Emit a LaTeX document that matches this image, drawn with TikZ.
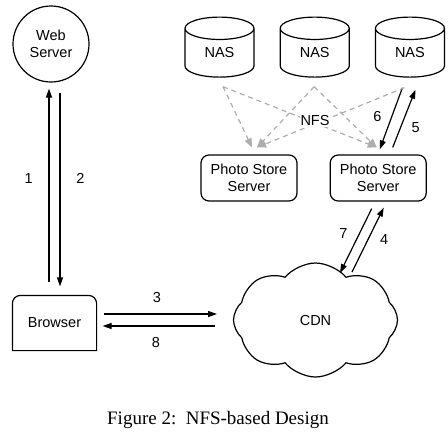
\documentclass[tikz,border=0pt]{standalone}
\usepackage{fontspec}
\setmainfont{Liberation Serif}
\newfontfamily\diagfont{Liberation Sans}
\usepackage{tikz}
\usetikzlibrary{arrows.meta, positioning, shapes.geometric, shapes.symbols}

\begin{document}
\begin{tikzpicture}[
    x=0.5pt, y=0.5pt,
    font=\diagfont\fontsize{7.25}{8.4}\selectfont,
    line width=0.6pt,
    nas/.style={cylinder, draw, shape border rotate=90, aspect=0.75, minimum width=34.5pt, minimum height=30pt, inner sep=0pt},
    box/.style={rectangle, draw, rounded corners=4pt, align=center, minimum width=48pt, minimum height=23pt, inner sep=0pt},
    arrow/.style={-{Triangle[length=4.5pt, width=3pt]}},
    nfs/.style={-{Triangle[length=4.5pt, width=3.6pt]}, draw=black!32, dash pattern=on 2.5pt off 2pt}
  ]
    \useasboundingbox (0,0) rectangle (448,441);

    % nodes
    \node[circle, draw, minimum size=38pt, align=center, inner sep=0pt] (web) at (51,397) {Web\\Server};
    \node[minimum width=41.5pt, minimum height=27pt, inner sep=0pt] (browser) at (54.5,118) {Browser};
    \draw (browser.south west) -- ([yshift=-4pt]browser.north west)
      arc[start angle=180, end angle=90, radius=4pt] -- ([xshift=-4pt]browser.north east)
      arc[start angle=90, end angle=0, radius=4pt] -- (browser.south east) -- cycle;

    \node[nas] (nas1) at (219.5,388) {NAS};
    \node[nas, right=12.5pt of nas1] (nas2) {NAS};
    \node[nas, right=12.5pt of nas2] (nas3) {NAS};

    \node[box] (ps1) at (249,263) {Photo Store\\Server};
    \node[box, right=16pt of ps1] (ps2) {Photo Store\\Server};

    \node[cloud, draw, cloud puffs=8, cloud puff arc=100, aspect=1.6, minimum width=82pt, minimum height=57pt] (cdn) at (315.5,121) {CDN};

    % web server <-> browser
    \draw[arrow, shorten <=6.5pt, shorten >=3pt] ([xshift=-2.75pt]browser.north) -- ([xshift=-2.75pt]browser.north |- web.south) node[pos=0.55, left=4.5pt] {1};
    \draw[arrow, shorten <=5pt, shorten >=4.5pt] ([xshift=2.75pt]browser.north |- web.south) -- ([xshift=2.75pt]browser.north) node[pos=0.45, right=4.5pt] {2};

    % browser <-> cdn
    \draw[arrow, shorten <=3.5pt] ([yshift=4.5pt]browser.east) -- ([xshift=-49.25pt, yshift=3pt]cdn.center) node[midway, above=2pt] {3};
    \draw[arrow, shorten >=3pt] ([xshift=-50.25pt, yshift=-3pt]cdn.center) -- ([yshift=-1.5pt]browser.east) node[midway, below=2pt] {8};

    % cdn <-> photo store
    \draw[arrow] ([xshift=-3.25pt, yshift=-3.5pt]ps2.south) -- ([xshift=12.25pt, yshift=23.5pt]cdn.center) node[pos=0.38, left=2.5pt] {7};
    \draw[arrow] ([xshift=18.25pt, yshift=24pt]cdn.center) -- ([xshift=2.75pt, yshift=-3pt]ps2.south) node[pos=0.5, right=2.5pt] {4};

    % photo store <-> nas
    \draw[arrow] ([xshift=-3.75pt, yshift=-5pt]nas3.bottom) -- ([xshift=0.75pt, yshift=2.5pt]ps2.north) node[pos=0.47, left=1.5pt] {6};
    \draw[arrow] ([xshift=7.25pt, yshift=3.5pt]ps2.north) -- ([xshift=2.75pt, yshift=-6pt]nas3.bottom) node[pos=0.34, right=2pt] {5};

    % nfs mounts
    \draw[nfs] ([xshift=1.75pt, yshift=-4.5pt]nas1.bottom) -- ([xshift=1.5pt, yshift=3.5pt]ps1.north);
    \draw[nfs] ([xshift=1.75pt, yshift=-4.5pt]nas1.bottom) -- ([xshift=-0.75pt, yshift=3.5pt]ps2.north);
    \draw[nfs] ([xshift=-0.25pt, yshift=-4.5pt]nas2.bottom) -- ([xshift=4pt, yshift=3.5pt]ps1.north);
    \draw[nfs] ([xshift=-0.25pt, yshift=-4.5pt]nas2.bottom) -- ([xshift=-0.75pt, yshift=3.5pt]ps2.north);
    \draw[nfs] ([xshift=-2.75pt, yshift=-5pt]nas3.bottom) -- ([xshift=4pt, yshift=3.5pt]ps1.north);
    \node[fill=white, inner sep=0.5pt] (nfslabel) at (315,320) {NFS};

    % caption
    \node[font=\rmfamily\fontsize{9.5}{11}\selectfont] (caption) at (218,21) {Figure 2:\ \ NFS-based Design};
  \end{tikzpicture}
\end{document}
